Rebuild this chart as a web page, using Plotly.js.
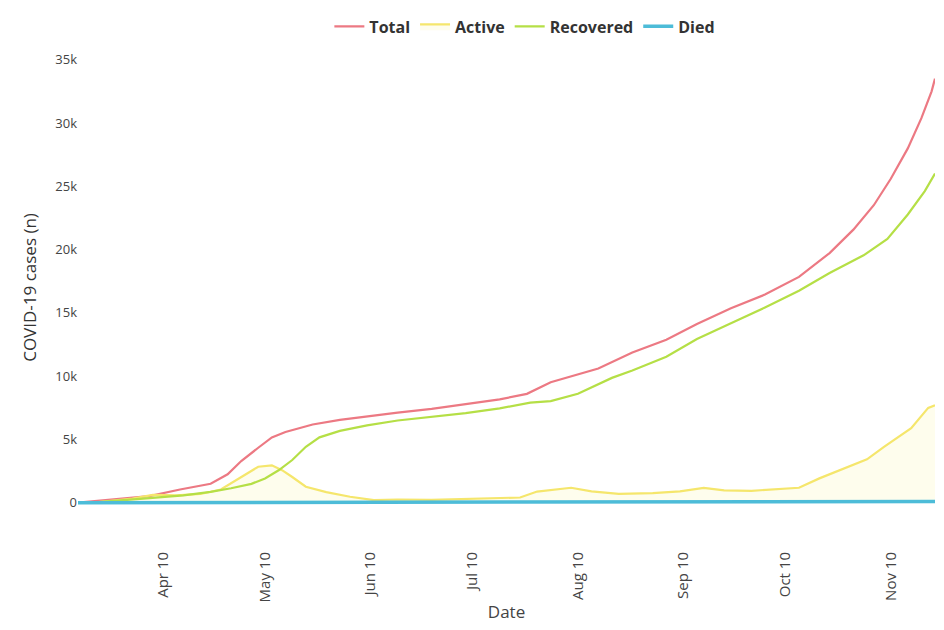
<!DOCTYPE html>
<html>
<head>
<meta charset="utf-8">
<script src="https://cdn.plot.ly/plotly-3.0.1.min.js"></script>
<style>html,body{margin:0;padding:0;background:#fff;}#chart{width:944px;height:630px;}</style>
</head>
<body>
<div id="chart"></div>
<script>
// Total cases
const totalDates = ['2020-03-16','2020-03-28','2020-04-06','2020-04-15','2020-04-24','2020-04-29','2020-05-03','2020-05-08','2020-05-12','2020-05-16','2020-05-24','2020-06-01','2020-06-09','2020-06-18','2020-06-28','2020-07-08','2020-07-18','2020-07-26','2020-08-02','2020-08-16','2020-08-26','2020-09-05','2020-09-14','2020-09-24','2020-10-04','2020-10-14','2020-10-23','2020-10-30','2020-11-05','2020-11-10','2020-11-15','2020-11-19','2020-11-22','2020-11-23'];
const totalValues = [0,300,520,1040,1490,2240,3290,4340,5160,5580,6180,6540,6820,7120,7410,7790,8160,8600,9520,10600,11860,12870,14120,15360,16440,17840,19720,21570,23500,25590,27990,30380,32500,33500];

// Active cases
const activeDates = ['2020-03-16','2020-03-22','2020-04-01','2020-04-07','2020-04-14','2020-04-21','2020-04-27','2020-04-30','2020-05-05','2020-05-08','2020-05-12','2020-05-15','2020-05-18','2020-05-22','2020-05-28','2020-06-04','2020-06-11','2020-06-18','2020-06-28','2020-07-08','2020-07-18','2020-07-24','2020-07-29','2020-08-02','2020-08-08','2020-08-14','2020-08-22','2020-09-01','2020-09-09','2020-09-16','2020-09-22','2020-09-30','2020-10-10','2020-10-14','2020-10-20','2020-10-29','2020-11-03','2020-11-08','2020-11-16','2020-11-21','2020-11-23'];
const activeValues = [0,40,330,610,570,690,1040,1530,2350,2840,2950,2570,2030,1260,830,470,200,250,220,280,340,410,880,990,1180,900,700,760,890,1170,970,940,1080,1180,1920,2930,3430,4410,5880,7490,7700];

// Recovered cases
const recoveredDates = ['2020-03-16','2020-03-22','2020-04-06','2020-04-16','2020-04-24','2020-04-30','2020-05-06','2020-05-10','2020-05-14','2020-05-18','2020-05-22','2020-05-26','2020-06-01','2020-06-09','2020-06-18','2020-06-28','2020-07-08','2020-07-18','2020-07-27','2020-08-02','2020-08-10','2020-08-20','2020-08-26','2020-09-05','2020-09-14','2020-09-24','2020-10-04','2020-10-14','2020-10-23','2020-11-02','2020-11-09','2020-11-15','2020-11-20','2020-11-23'];
const recoveredValues = [0,40,360,580,860,1140,1490,1910,2560,3370,4420,5160,5670,6110,6490,6780,7080,7450,7900,8020,8610,9860,10440,11530,12930,14170,15420,16740,18140,19540,20840,22770,24620,26000];

// Deaths
const diedDates = ['2020-03-16','2020-04-15','2020-05-15','2020-06-15','2020-07-15','2020-08-15','2020-09-15','2020-10-15','2020-11-23'];
const diedValues = [0,10,20,25,30,40,50,60,90];

// X-axis ticks
const tickDates = ['2020-04-10','2020-05-10','2020-06-10','2020-07-10','2020-08-10','2020-09-10','2020-10-10','2020-11-10'];
const tickLabels = ['Apr 10','May 10','Jun 10','Jul 10','Aug 10','Sep 10','Oct 10','Nov 10'];

const traces = [
  {x: totalDates, y: totalValues, name: 'Total', type: 'scatter', mode: 'lines',
   line: {color: '#ec7983', width: 2.2}},
  {x: activeDates, y: activeValues, name: 'Active', type: 'scatter', mode: 'lines',
   fill: 'tozeroy', fillcolor: 'rgba(250,240,140,0.16)',
   line: {color: '#f5e66c', width: 2.2}},
  {x: recoveredDates, y: recoveredValues, name: 'Recovered', type: 'scatter', mode: 'lines',
   line: {color: '#b5df46', width: 2.2}},
  {x: diedDates, y: diedValues, name: 'Died', type: 'scatter', mode: 'lines',
   line: {color: '#4dbcd8', width: 3.5}}
];

const layout = {
  width: 944, height: 630,
  paper_bgcolor: '#ffffff', plot_bgcolor: '#ffffff',
  margin: {l: 78, r: 9, t: 47, b: 102},
  font: {family: 'Open Sans, Arial, sans-serif', color: '#333', size: 13},
  showlegend: true,
  legend: {orientation: 'h', xref: 'container', x: 0.556, xanchor: 'center',
           yref: 'container', y: 0.985, yanchor: 'top',
           font: {size: 16, color: '#333', weight: 'bold'}, bgcolor: 'rgba(0,0,0,0)'},
  xaxis: {
    type: 'date',
    range: ['2020-03-16', '2020-11-23'],
    tickmode: 'array', tickvals: tickDates, ticktext: tickLabels,
    tickangle: -90, ticklabelstandoff: 20,
    showgrid: false, zeroline: false, showline: false,
    tickfont: {size: 15, color: '#444'},
    title: {text: 'Date', font: {size: 17, color: '#444'}, standoff: 4}
  },
  yaxis: {
    range: [-2000, 36000],
    dtick: 5000, tick0: 0,
    showgrid: false, zeroline: false, showline: false,
    tickfont: {size: 13, color: '#444'},
    title: {text: 'COVID-19 cases (n)', font: {size: 17, color: '#333'}, standoff: 14}
  }
};

Plotly.newPlot('chart', traces, layout, {displayModeBar: false, staticPlot: true});
</script>
</body>
</html>
